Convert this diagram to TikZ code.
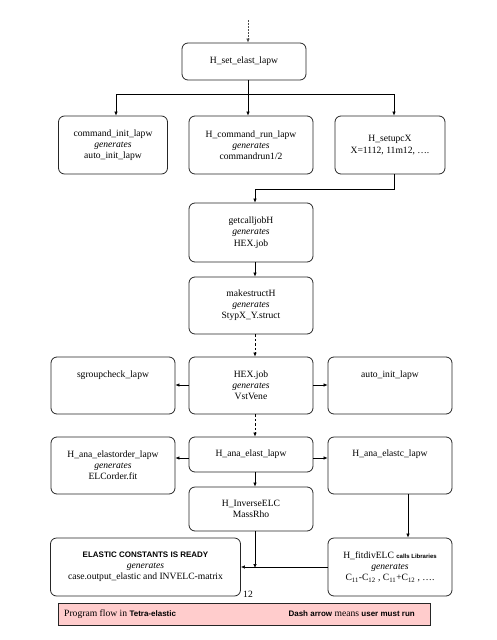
\documentclass[tikz,border=0pt]{standalone}
\usepackage{fontspec}
\setmainfont{Liberation Serif}
\newfontfamily\bsans{Liberation Sans}
\usetikzlibrary{arrows.meta}
\begin{document}
\begin{tikzpicture}[x=1pt,y=-1pt,
  box/.style={draw=black!85,line width=0.8pt,rounded corners=6pt,inner sep=0pt,align=center,
    font=\fontsize{9.6}{11.2}\selectfont},
  topbox/.style={draw=black!85,line width=0.8pt,rounded corners=6pt,inner sep=0pt,
    font=\fontsize{9.6}{11.2}\selectfont},
  arr/.style={line width=0.6pt,-{Latex[length=4pt,width=3.5pt]}},
  darr/.style={arr,dash pattern=on 2.5pt off 2pt},
  ln/.style={line width=0.6pt}]
\useasboundingbox (0,0) rectangle (496,640);
% top row
\node[box,minimum width=124pt,minimum height=37pt] (setelast) at (244,61.5) {H\_set\_elast\_lapw};
\node[box,minimum width=109pt,minimum height=58pt] (cmdinit) at (113,145) {command\_init\_lapw\\\textit{generates}\\auto\_init\_lapw};
\node[box,minimum width=124pt,minimum height=58pt] (cmdrun) at (251,145) {H\_command\_run\_lapw\\\textit{generates}\\commandrun1/2};
\node[box,minimum width=110pt,minimum height=58pt] (setup) at (390,145) {H\_setupcX\\X=1112, 11m12, \ldots.};
\node[box,minimum width=124pt,minimum height=59pt] (getcall) at (251,232.5) {getcalljobH\\\textit{generates}\\HEX.job};
\node[box,minimum width=124pt,minimum height=57pt] (makestr) at (251,305.5) {makestructH\\\textit{generates}\\StypX\_Y.struct};
% HEX row
\node[topbox,minimum width=124pt,text height=20pt,text depth=37pt] (sgroup) at (113,385.5) {sgroupcheck\_lapw};
\node[box,minimum width=124pt,minimum height=57pt] (hexjob) at (251,385.5) {HEX.job\\\textit{generates}\\VstVene};
\node[topbox,minimum width=124pt,text height=20pt,text depth=37pt] (autoinit) at (390,385.5) {auto\_init\_lapw};
% ana row
\node[box,minimum width=124pt,minimum height=57pt] (anaorder) at (113,465.5) {H\_ana\_elastorder\_lapw\\\textit{generates}\\ELCorder.fit};
\node[box,minimum width=124pt,minimum height=35pt] (anaelast) at (251,454.5) {H\_ana\_elast\_lapw};
\node[topbox,minimum width=124pt,text height=19pt,text depth=38pt] (anaelastc) at (390,465.5) {H\_ana\_elastc\_lapw};
\node[box,minimum width=124pt,minimum height=44pt] (inverse) at (251,509) {H\_InverseELC\\MassRho};
% bottom row
\node[box,minimum width=190pt,minimum height=58pt] (ready) at (145.5,567) {{\bsans\bfseries\fontsize{8}{10}\selectfont ELASTIC CONSTANTS IS READY}\\\textit{generates}\\case.output\_elastic and INVELC-matrix};
\node[box,minimum width=124pt,minimum height=58pt] (fitdiv) at (390,567) {H\_fitdivELC {\bsans\bfseries\fontsize{6}{8}\selectfont calls Libraries}\\\textit{generates}\\C\textsubscript{11}-C\textsubscript{12} , C\textsubscript{11}+C\textsubscript{12} , \ldots.};
\node[font=\fontsize{9.6}{11}\selectfont,inner sep=0pt] (pnum) at (248,594) {12};
% legend
\node[draw=black!85,fill=red!20,line width=0.8pt,minimum width=372pt,minimum height=22pt,inner sep=0pt] (legend) at (244.5,614) {};
\node[anchor=west,inner sep=0pt,font=\fontsize{9.6}{11}\selectfont] (legl) at (64,614) {Program flow in {\bsans\bfseries\fontsize{8}{10}\selectfont Tetra-elastic}};
\node[anchor=east,inner sep=0pt,font=\fontsize{9.6}{11}\selectfont] (legr) at (415,614) {{\bsans\bfseries\fontsize{8}{10}\selectfont Dash arrow} means {\bsans\bfseries\fontsize{8}{10}\selectfont user must run}};
% coordinates
\coordinate (xa) at (248,0);
\coordinate (xl) at (116,0);
\coordinate (xr) at (394,0);
\coordinate (xc) at (255,0);
\coordinate (xf) at (408,0);
\coordinate (topstart) at (248,20);
\coordinate (ybus) at (0,94);
\coordinate (ybus2) at (0,189);
\coordinate (ymid1) at (0,385);
\coordinate (ymid2) at (0,458);
\coordinate (ylow) at (0,567);
% connectors
\draw[arr,dash pattern=on 1.5pt off 1.5pt,black!70] (topstart) -- (setelast.north -| xa);
\draw[ln] (setelast.south -| xa) -- (xa |- ybus);
\draw[ln] (xl |- ybus) -- (xr |- ybus);
\draw[arr] (xl |- ybus) -- (cmdinit.north -| xl);
\draw[arr] (xa |- ybus) -- (cmdrun.north -| xa);
\draw[arr] (xr |- ybus) -- (setup.north -| xr);
\draw[ln] (setup.south -| xr) -- (xr |- ybus2) -- (xc |- ybus2);
\draw[arr] (xc |- ybus2) -- (getcall.north -| xc);
\draw[arr] (getcall.south -| xc) -- (makestr.north -| xc);
\draw[darr] (makestr.south -| xc) -- (hexjob.north -| xc);
\draw[arr] (hexjob.west |- ymid1) -- (sgroup.east |- ymid1);
\draw[arr] (hexjob.east |- ymid1) -- (autoinit.west |- ymid1);
\draw[darr] (hexjob.south -| xc) -- (anaelast.north -| xc);
\draw[arr] (anaelast.west |- ymid2) -- (anaorder.east |- ymid2);
\draw[arr] (anaelast.east |- ymid2) -- (anaelastc.west |- ymid2);
\draw[arr] (anaelast.south -| xc) -- (inverse.north -| xc);
\draw[arr] (anaelastc.south -| xf) -- (fitdiv.north -| xf);
\draw[arr] (fitdiv.west |- ylow) -- (ready.east |- ylow);
\draw[arr] (inverse.south -| xc) -- ([yshift=-1pt]xc |- ylow);
\end{tikzpicture}
\end{document}
